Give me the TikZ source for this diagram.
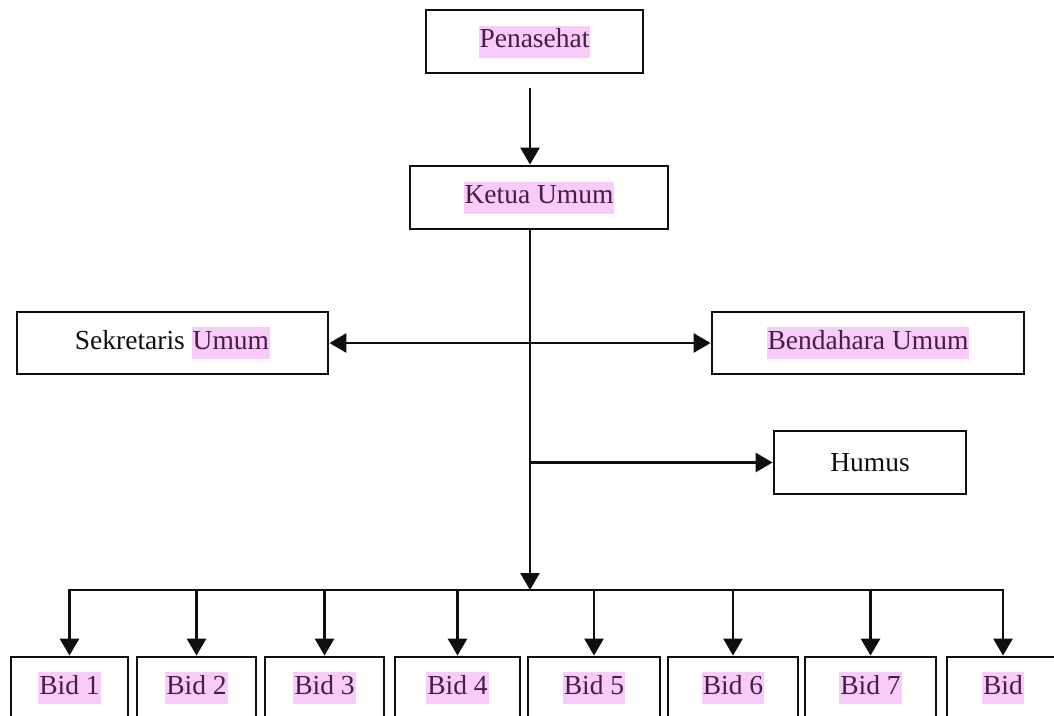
\documentclass[tikz,border=0pt]{standalone}
\usepackage{fontspec}
\setmainfont{Liberation Serif}
\usetikzlibrary{arrows.meta}

\definecolor{evidenzia}{RGB}{249,203,249}
\definecolor{testoviola}{RGB}{72,28,72}
\definecolor{testonero}{RGB}{15,15,15}

% testo evidenziato in rosa
\newcommand{\evid}[1]{{\setlength{\fboxsep}{1pt}\colorbox{evidenzia}{\strut\textcolor{testoviola}{#1}}}}

\begin{document}
\begin{tikzpicture}[x=1pt, y=-1pt, line width=2.8pt, color=testonero,
    >={Triangle[width=19pt,length=17pt]},
    box/.style={draw, rectangle, inner sep=0pt, minimum height=62pt,
                text=testonero, font=\fontsize{27.5}{30}\selectfont}]

    \useasboundingbox (0,0) rectangle (1054,715);
    \clip (0,0) rectangle (1054,715);

    \coordinate (spine) at (530,0);
    \coordinate (bus) at (530,590);

    % -- Parte Alta: Penasehat e Ketua Umum --
    \node[box, minimum width=217pt, minimum height=63pt] (pen) at (534.5,41.5) {\evid{Penasehat}};
    \node[box, minimum width=258pt, minimum height=63pt] (ketua) at (539,197.5) {\evid{Ketua Umum}};

    \draw[->] ([yshift=-14pt]pen.south -| spine) -- (ketua.north -| spine);

    % -- Parte Centrale: Sekretaris, Bendahara, Humus --
    \node[box, minimum width=311pt] (sek) at (172.5,343) {Sekretaris \evid{Umum}};
    \node[box, minimum width=312pt] (ben) at (868,343) {\evid{Bendahara Umum}};
    \node[box, minimum width=192pt, minimum height=63pt] (hum) at (870,462.5) {Humus};

    \draw[->] (ketua.south -| spine) -- (bus);
    \draw[<->] (sek.east) -- (ben.west);
    \draw[->] (spine |- hum.west) -- (hum.west);

    % -- Parte Bassa: i bidang --
    \foreach \n/\cx/\w/\etic in {1/69.5/117/Bid 1, 2/196.5/119/Bid 2, 3/324.5/119/Bid 3,
                                 4/457.5/125/Bid 4, 5/594/132/Bid 5, 6/733/130/Bid 6,
                                 7/870.5/131/Bid 7, 8/1003/112/Bid}
        \node[box, minimum width=\w pt] (bid\n) at (\cx,688) {\evid{\etic}};

    \draw[<->] (bid1.north) |- (bus) -| (bid8.north);
    \foreach \n in {2,...,7}
        \draw[->] (bid\n.north |- bus) -- (bid\n.north);
\end{tikzpicture}
\end{document}
